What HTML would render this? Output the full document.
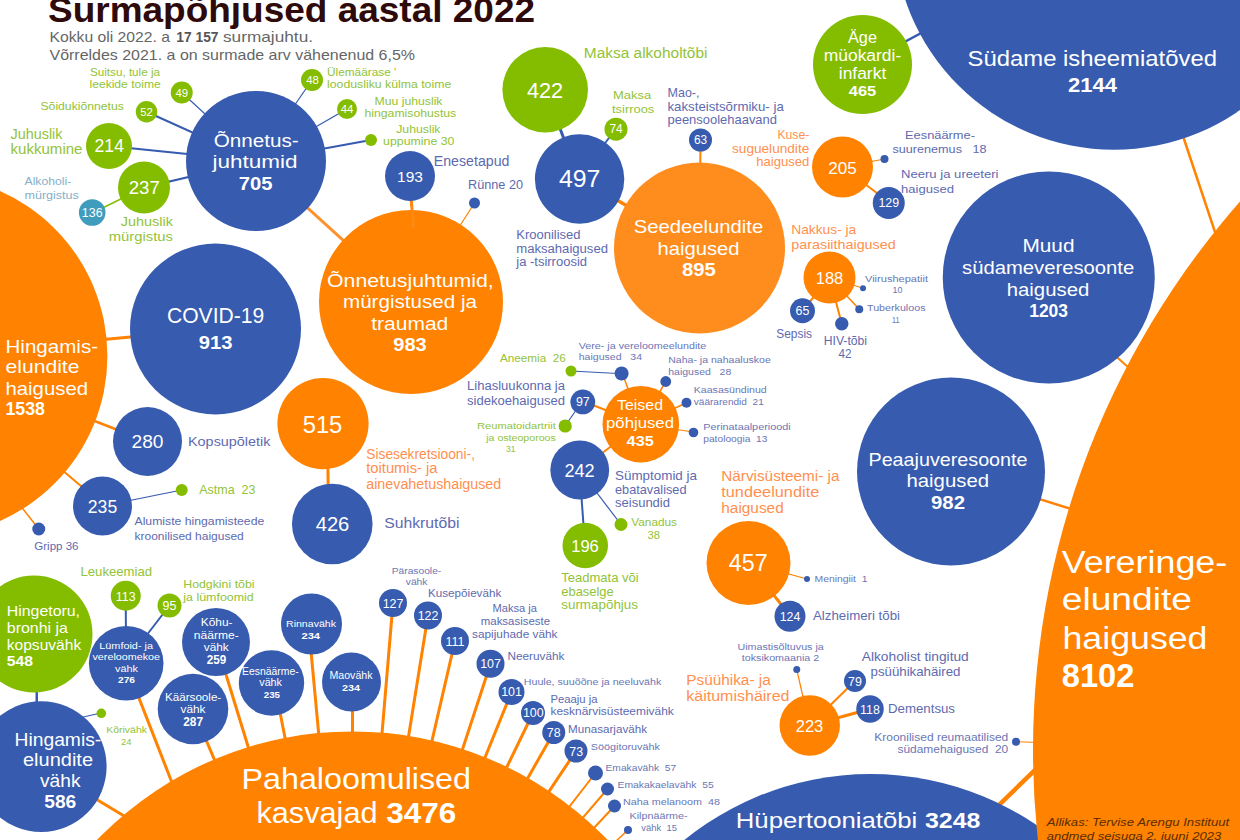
<!DOCTYPE html>
<html><head><meta charset="utf-8"><title>Surmapõhjused aastal 2022</title>
<style>
html,body{margin:0;padding:0;background:#fff;}
body{width:1240px;height:840px;overflow:hidden;}
svg{display:block;}
text{font-family:"Liberation Sans",sans-serif;white-space:pre;}
</style></head><body>
<svg width="1240" height="840" viewBox="0 0 1240 840">
<rect width="1240" height="840" fill="#fff"/>
<line x1="256" y1="161" x2="181.75" y2="92.5" stroke="#365BAF" stroke-width="1.2"/>
<line x1="256" y1="161" x2="146.5" y2="111.75" stroke="#365BAF" stroke-width="2"/>
<line x1="256" y1="161" x2="109" y2="146" stroke="#365BAF" stroke-width="2.2"/>
<line x1="256" y1="161" x2="144" y2="187.5" stroke="#365BAF" stroke-width="2.2"/>
<line x1="256" y1="161" x2="312" y2="80" stroke="#365BAF" stroke-width="1.2"/>
<line x1="256" y1="161" x2="347" y2="109" stroke="#365BAF" stroke-width="1.2"/>
<line x1="256" y1="161" x2="371" y2="140" stroke="#365BAF" stroke-width="1.8"/>
<line x1="144" y1="187.5" x2="92.5" y2="213" stroke="#84BD00" stroke-width="1.5"/>
<line x1="256" y1="161" x2="411" y2="302" stroke="#FF902A" stroke-width="3"/>
<line x1="410" y1="176" x2="411.6" y2="206" stroke="#FF8200" stroke-width="3"/>
<line x1="474.5" y1="203" x2="411" y2="302" stroke="#FF8200" stroke-width="1.2"/>
<line x1="545" y1="89.5" x2="579" y2="178" stroke="#365BAF" stroke-width="3"/>
<line x1="616" y1="128.5" x2="579" y2="178" stroke="#365BAF" stroke-width="2"/>
<line x1="579" y1="178" x2="699.5" y2="248" stroke="#FF8200" stroke-width="3.5"/>
<line x1="700.5" y1="140" x2="699.5" y2="248" stroke="#FF8200" stroke-width="2"/>
<line x1="862.5" y1="64.5" x2="1113.9" y2="-70.3" stroke="#365BAF" stroke-width="2.5"/>
<line x1="842.5" y1="167" x2="884.5" y2="159" stroke="#FF8200" stroke-width="1.2"/>
<line x1="842.5" y1="167" x2="888.75" y2="202" stroke="#FF8200" stroke-width="2"/>
<line x1="829.5" y1="277.5" x2="802.5" y2="310.75" stroke="#FF8200" stroke-width="2"/>
<line x1="829.5" y1="277.5" x2="841.75" y2="323.75" stroke="#FF8200" stroke-width="2"/>
<line x1="829.5" y1="277.5" x2="859.25" y2="309.25" stroke="#FF8200" stroke-width="1.5"/>
<line x1="829.5" y1="277.5" x2="863" y2="288.25" stroke="#FF8200" stroke-width="1.2"/>
<line x1="1174" y1="109" x2="1225" y2="262" stroke="#FF8200" stroke-width="2.5"/>
<line x1="1105" y1="346.5" x2="1138" y2="376" stroke="#FF8200" stroke-width="2"/>
<line x1="951" y1="471.5" x2="1100" y2="518" stroke="#FF8200" stroke-width="2.5"/>
<line x1="985" y1="818.5" x2="1050" y2="755.5" stroke="#FF8200" stroke-width="4.5"/>
<line x1="1016" y1="741.75" x2="1040" y2="742.5" stroke="#FF8200" stroke-width="1"/>
<line x1="-73" y1="356" x2="215.5" y2="329" stroke="#FF8200" stroke-width="3"/>
<line x1="-73" y1="356" x2="147.5" y2="441.5" stroke="#FF8200" stroke-width="2.5"/>
<line x1="32.5" y1="445" x2="97.5" y2="500" stroke="#FF8200" stroke-width="2"/>
<line x1="10" y1="492.5" x2="38.75" y2="529" stroke="#FF8200" stroke-width="1.5"/>
<line x1="102.5" y1="506" x2="181.75" y2="490" stroke="#365BAF" stroke-width="1.2"/>
<line x1="327.5" y1="424" x2="328.5" y2="524" stroke="#FF8200" stroke-width="3"/>
<line x1="571" y1="371" x2="622.5" y2="373.75" stroke="#365BAF" stroke-width="1.2"/>
<line x1="622.5" y1="373.75" x2="641" y2="424" stroke="#FF8200" stroke-width="1.5"/>
<line x1="582.5" y1="401" x2="641" y2="424" stroke="#FF8200" stroke-width="2"/>
<line x1="582.5" y1="401" x2="565" y2="426" stroke="#365BAF" stroke-width="1.2"/>
<line x1="665.75" y1="381.5" x2="641" y2="424" stroke="#FF8200" stroke-width="1.5"/>
<line x1="686.5" y1="402.75" x2="641" y2="424" stroke="#FF8200" stroke-width="1.5"/>
<line x1="693" y1="432" x2="641" y2="424" stroke="#FF8200" stroke-width="1.2"/>
<line x1="579.5" y1="470" x2="641" y2="424" stroke="#FF8200" stroke-width="2"/>
<line x1="579.5" y1="470" x2="585" y2="545.5" stroke="#365BAF" stroke-width="2"/>
<line x1="579.5" y1="470" x2="621" y2="524.5" stroke="#365BAF" stroke-width="1.2"/>
<line x1="748.5" y1="563" x2="807" y2="579" stroke="#FF8200" stroke-width="1.2"/>
<line x1="748.5" y1="563" x2="790" y2="615.75" stroke="#FF8200" stroke-width="3"/>
<line x1="809.5" y1="725.5" x2="796.75" y2="669.5" stroke="#FF8200" stroke-width="1.2"/>
<line x1="809.5" y1="725.5" x2="855" y2="681" stroke="#FF8200" stroke-width="2"/>
<line x1="809.5" y1="725.5" x2="870" y2="709" stroke="#FF8200" stroke-width="3"/>
<line x1="36.5" y1="634" x2="37" y2="766" stroke="#365BAF" stroke-width="2.5"/>
<line x1="70" y1="720" x2="101" y2="713" stroke="#365BAF" stroke-width="1.2"/>
<line x1="125.75" y1="595.75" x2="126" y2="662" stroke="#365BAF" stroke-width="2"/>
<line x1="169.5" y1="605.5" x2="126" y2="662" stroke="#365BAF" stroke-width="2"/>
<line x1="72.5" y1="785" x2="135" y2="822.5" stroke="#FF8200" stroke-width="3"/>
<line x1="130.75" y1="677" x2="179.25" y2="801.25" stroke="#FF8200" stroke-width="3"/>
<line x1="277" y1="697" x2="288" y2="753" stroke="#FF8200" stroke-width="3"/>
<line x1="309.4" y1="634" x2="320.6" y2="754" stroke="#FF8200" stroke-width="3"/>
<line x1="352.5" y1="682" x2="352.5" y2="745" stroke="#FF8200" stroke-width="3"/>
<line x1="193" y1="709" x2="352.3" y2="1086" stroke="#FF8200" stroke-width="3"/>
<line x1="216" y1="642" x2="352.3" y2="1086" stroke="#FF8200" stroke-width="3"/>
<line x1="393" y1="603" x2="352.3" y2="1086" stroke="#FF8200" stroke-width="3"/>
<line x1="428" y1="615.5" x2="352.3" y2="1086" stroke="#FF8200" stroke-width="3"/>
<line x1="455" y1="641" x2="352.3" y2="1086" stroke="#FF8200" stroke-width="3"/>
<line x1="490.5" y1="663.75" x2="352.3" y2="1086" stroke="#FF8200" stroke-width="3"/>
<line x1="511.5" y1="692" x2="352.3" y2="1086" stroke="#FF8200" stroke-width="3"/>
<line x1="533" y1="713" x2="352.3" y2="1086" stroke="#FF8200" stroke-width="3"/>
<line x1="553.75" y1="732.5" x2="352.3" y2="1086" stroke="#FF8200" stroke-width="3"/>
<line x1="576" y1="751" x2="352.3" y2="1086" stroke="#FF8200" stroke-width="3"/>
<line x1="595.5" y1="773" x2="352.3" y2="1086" stroke="#FF8200" stroke-width="2"/>
<line x1="607.5" y1="789" x2="352.3" y2="1086" stroke="#FF8200" stroke-width="2"/>
<line x1="614.5" y1="806" x2="352.3" y2="1086" stroke="#FF8200" stroke-width="2"/>
<line x1="628" y1="830" x2="352.3" y2="1086" stroke="#FF8200" stroke-width="1.5"/>
<circle cx="870.5" cy="1069.5" r="295.5" fill="#365BAF"/>
<circle cx="1113.9" cy="-70.3" r="220.1" fill="#365BAF"/>
<circle cx="1863" cy="750" r="830.0" fill="#FF8200"/>
<circle cx="352.3" cy="1086" r="354.6" fill="#FF8200"/>
<circle cx="-73" cy="356" r="180.4" fill="#FF8200"/>
<circle cx="256" cy="161" r="70" fill="#365BAF"/>
<circle cx="411" cy="302" r="92" fill="#FF8200"/>
<circle cx="215.5" cy="329" r="85.5" fill="#365BAF"/>
<circle cx="699.5" cy="248" r="85.5" fill="#FF8D1E"/>
<circle cx="1048.75" cy="277.5" r="106" fill="#365BAF"/>
<circle cx="951" cy="471.5" r="94" fill="#365BAF"/>
<circle cx="640.8" cy="424.2" r="38.3" fill="#FF8200"/>
<circle cx="181.75" cy="92.5" r="11" fill="#84BD00"/>
<circle cx="146.5" cy="111.75" r="10.75" fill="#84BD00"/>
<circle cx="109" cy="146" r="23" fill="#84BD00"/>
<circle cx="144" cy="187.5" r="26" fill="#84BD00"/>
<circle cx="312" cy="80" r="11" fill="#84BD00"/>
<circle cx="347" cy="109" r="10" fill="#84BD00"/>
<circle cx="371" cy="140" r="6" fill="#84BD00"/>
<circle cx="545.2" cy="89.8" r="42.8" fill="#84BD00"/>
<circle cx="616" cy="129.2" r="11.5" fill="#84BD00"/>
<circle cx="862.5" cy="64.5" r="49.5" fill="#84BD00"/>
<circle cx="571" cy="371" r="5.5" fill="#84BD00"/>
<circle cx="565.2" cy="426" r="6.6" fill="#84BD00"/>
<circle cx="585.25" cy="545.5" r="22.75" fill="#84BD00"/>
<circle cx="621" cy="524.5" r="6.5" fill="#84BD00"/>
<circle cx="181.75" cy="490" r="6" fill="#84BD00"/>
<circle cx="125.75" cy="595.75" r="15" fill="#84BD00"/>
<circle cx="169.5" cy="605.5" r="12" fill="#84BD00"/>
<circle cx="34" cy="634" r="58.5" fill="#84BD00"/>
<circle cx="101.3" cy="713.3" r="4.8" fill="#84BD00"/>
<circle cx="92.2" cy="212.5" r="13.3" fill="#3F9CBD"/>
<circle cx="410" cy="176" r="25" fill="#365BAF"/>
<circle cx="474.5" cy="203" r="5.5" fill="#365BAF"/>
<circle cx="579.6" cy="179" r="44.7" fill="#365BAF"/>
<circle cx="700.5" cy="140" r="11.5" fill="#365BAF"/>
<circle cx="884.5" cy="159" r="4" fill="#365BAF"/>
<circle cx="888.75" cy="203" r="16" fill="#365BAF"/>
<circle cx="802.5" cy="310.75" r="12.5" fill="#365BAF"/>
<circle cx="841.75" cy="323.75" r="6.75" fill="#365BAF"/>
<circle cx="859.25" cy="309.25" r="4" fill="#365BAF"/>
<circle cx="863" cy="288.25" r="3" fill="#365BAF"/>
<circle cx="621.6" cy="373.5" r="7" fill="#365BAF"/>
<circle cx="665.75" cy="381.5" r="5.4" fill="#365BAF"/>
<circle cx="686.5" cy="402.75" r="5" fill="#365BAF"/>
<circle cx="693.5" cy="432.5" r="4.8" fill="#365BAF"/>
<circle cx="582.8" cy="401.9" r="12.4" fill="#365BAF"/>
<circle cx="579.75" cy="470" r="29.4" fill="#365BAF"/>
<circle cx="147.5" cy="441.5" r="34.5" fill="#365BAF"/>
<circle cx="102.5" cy="506" r="29.5" fill="#365BAF"/>
<circle cx="38.75" cy="529" r="6.5" fill="#365BAF"/>
<circle cx="332.25" cy="524" r="40.3" fill="#365BAF"/>
<circle cx="807" cy="579" r="3" fill="#365BAF"/>
<circle cx="790" cy="616.3" r="15.5" fill="#365BAF"/>
<circle cx="796.75" cy="669.5" r="3.5" fill="#365BAF"/>
<circle cx="855" cy="681" r="11" fill="#365BAF"/>
<circle cx="870" cy="709" r="13.75" fill="#365BAF"/>
<circle cx="1016" cy="741.75" r="4" fill="#365BAF"/>
<circle cx="41.2" cy="766.6" r="65.4" fill="#365BAF"/>
<circle cx="126.2" cy="663.2" r="37.3" fill="#365BAF"/>
<circle cx="193" cy="709" r="35.3" fill="#365BAF"/>
<circle cx="216" cy="642" r="34" fill="#365BAF"/>
<circle cx="271.5" cy="683" r="32.7" fill="#365BAF"/>
<circle cx="311.5" cy="624" r="30.5" fill="#365BAF"/>
<circle cx="351.5" cy="682" r="29.5" fill="#365BAF"/>
<circle cx="393" cy="603" r="14" fill="#365BAF"/>
<circle cx="428" cy="615.5" r="14" fill="#365BAF"/>
<circle cx="455" cy="641" r="14" fill="#365BAF"/>
<circle cx="490.5" cy="663.75" r="14" fill="#365BAF"/>
<circle cx="511.5" cy="692" r="13" fill="#365BAF"/>
<circle cx="533" cy="713" r="12" fill="#365BAF"/>
<circle cx="553.75" cy="732.5" r="11.5" fill="#365BAF"/>
<circle cx="576" cy="751" r="11.5" fill="#365BAF"/>
<circle cx="595.5" cy="773" r="7.5" fill="#365BAF"/>
<circle cx="607.5" cy="789" r="6.5" fill="#365BAF"/>
<circle cx="614.5" cy="806" r="6.5" fill="#365BAF"/>
<circle cx="628" cy="830" r="4" fill="#365BAF"/>
<circle cx="842.5" cy="167" r="30.5" fill="#FF8200"/>
<circle cx="829.5" cy="277.5" r="26" fill="#FF8200"/>
<circle cx="323" cy="423.6" r="45.6" fill="#FF8200"/>
<circle cx="748.5" cy="563" r="42" fill="#FF8200"/>
<circle cx="809.75" cy="725.5" r="30.2" fill="#FF8200"/>
<line x1="411.3" y1="201.3" x2="413.7" y2="228" stroke="#FF8A12" stroke-width="3"/>
<text x="48" y="21.5" textLength="487" lengthAdjust="spacingAndGlyphs" style="font-size:35.19px;fill:#2E0A0A;font-weight:bold;">Surmapõhjused aastal 2022</text>
<text x="49.5" y="42" textLength="120.5" lengthAdjust="spacingAndGlyphs" style="font-size:15.01px;fill:#666;">Kokku oli 2022. a</text>
<text x="176.3" y="42" textLength="42.2" lengthAdjust="spacingAndGlyphs" style="font-size:15.01px;fill:#555;font-weight:bold;">17 157</text>
<text x="223" y="42" textLength="90" lengthAdjust="spacingAndGlyphs" style="font-size:15.01px;fill:#666;">surmajuhtu.</text>
<text x="49.5" y="60" textLength="365.5" lengthAdjust="spacingAndGlyphs" style="font-size:15.01px;fill:#666;">Võrreldes 2021. a on surmade arv vähenenud 6,5%</text>
<text x="90" y="75.5" textLength="70" lengthAdjust="spacingAndGlyphs" style="font-size:11.38px;fill:#92C338;">Suitsu, tule ja</text>
<text x="89.5" y="88" textLength="71.25" lengthAdjust="spacingAndGlyphs" style="font-size:11.38px;fill:#92C338;">leekide toime</text>
<text x="40.5" y="110" textLength="83.25" lengthAdjust="spacingAndGlyphs" style="font-size:11.38px;fill:#92C338;">Sõidukiõnnetus</text>
<text x="10.5" y="138.75" textLength="52.0" lengthAdjust="spacingAndGlyphs" style="font-size:13.97px;fill:#92C338;">Juhuslik</text>
<text x="10.5" y="154.25" textLength="72.0" lengthAdjust="spacingAndGlyphs" style="font-size:13.97px;fill:#92C338;">kukkumine</text>
<text x="24.5" y="184.5" textLength="46.75" lengthAdjust="spacingAndGlyphs" style="font-size:11.38px;fill:#86AFC8;">Alkoholi-</text>
<text x="24.5" y="199.25" textLength="54.25" lengthAdjust="spacingAndGlyphs" style="font-size:11.38px;fill:#86AFC8;">mürgistus</text>
<text x="181.75" y="96.6" style="font-size:11.38px;fill:#FFFFFF;text-anchor:middle;">49</text>
<text x="146.5" y="115.85" style="font-size:11.38px;fill:#FFFFFF;text-anchor:middle;">52</text>
<text x="109.25" y="152.08" style="font-size:17.59px;fill:#FFFFFF;text-anchor:middle;">214</text>
<text x="144.25" y="194.21" style="font-size:18.63px;fill:#FFFFFF;text-anchor:middle;">237</text>
<text x="92.2" y="217.27" style="font-size:12.42px;fill:#FFFFFF;text-anchor:middle;">136</text>
<text x="213.75" y="147" textLength="85.0" lengthAdjust="spacingAndGlyphs" style="font-size:18.63px;fill:#FFFFFF;">Õnnetus-</text>
<text x="212.5" y="167.5" textLength="85.0" lengthAdjust="spacingAndGlyphs" style="font-size:18.63px;fill:#FFFFFF;">juhtumid</text>
<text x="238.75" y="189.5" textLength="33.75" lengthAdjust="spacingAndGlyphs" style="font-size:17.59px;fill:#FFFFFF;font-weight:bold;">705</text>
<text x="327" y="75.5" textLength="69.25" lengthAdjust="spacingAndGlyphs" style="font-size:11.38px;fill:#92C338;">Ülemäärase '</text>
<text x="327" y="88" textLength="124.25" lengthAdjust="spacingAndGlyphs" style="font-size:11.38px;fill:#92C338;">loodusliku külma toime</text>
<text x="374.5" y="105" textLength="68.0" lengthAdjust="spacingAndGlyphs" style="font-size:11.38px;fill:#92C338;">Muu juhuslik</text>
<text x="364.5" y="117" textLength="91.75" lengthAdjust="spacingAndGlyphs" style="font-size:11.38px;fill:#92C338;">hingamisohustus</text>
<text x="396.25" y="132.5" textLength="44.25" lengthAdjust="spacingAndGlyphs" style="font-size:11.38px;fill:#92C338;">Juhuslik</text>
<text x="383" y="145" textLength="71.5" lengthAdjust="spacingAndGlyphs" style="font-size:11.38px;fill:#92C338;">uppumine 30</text>
<text x="312.5" y="84.1" style="font-size:11.38px;fill:#FFFFFF;text-anchor:middle;">48</text>
<text x="347" y="113.1" style="font-size:11.38px;fill:#FFFFFF;text-anchor:middle;">44</text>
<text x="433.75" y="166.25" textLength="75.75" lengthAdjust="spacingAndGlyphs" style="font-size:13.97px;fill:#5E6AAF;">Enesetapud</text>
<text x="468" y="188.75" textLength="55" lengthAdjust="spacingAndGlyphs" style="font-size:11.9px;fill:#5E6AAF;">Rünne 20</text>
<text x="410" y="182.09" style="font-size:15.52px;fill:#FFFFFF;text-anchor:middle;">193</text>
<text x="545" y="98.32" style="font-size:21.73px;fill:#FFFFFF;text-anchor:middle;">422</text>
<text x="579.6" y="187.44" style="font-size:24.84px;fill:#FFFFFF;text-anchor:middle;">497</text>
<text x="120.75" y="225.5" textLength="52.25" lengthAdjust="spacingAndGlyphs" style="font-size:13.45px;fill:#92C338;">Juhuslik</text>
<text x="108.75" y="241.25" textLength="64.25" lengthAdjust="spacingAndGlyphs" style="font-size:13.45px;fill:#92C338;">mürgistus</text>
<text x="583.75" y="58" textLength="123.75" lengthAdjust="spacingAndGlyphs" style="font-size:13.97px;fill:#92C338;">Maksa alkoholtõbi</text>
<text x="613" y="98.75" textLength="38.25" lengthAdjust="spacingAndGlyphs" style="font-size:11.38px;fill:#92C338;">Maksa</text>
<text x="612" y="113" textLength="42.25" lengthAdjust="spacingAndGlyphs" style="font-size:11.38px;fill:#92C338;">tsirroos</text>
<text x="616" y="133.48" style="font-size:11.9px;fill:#FFFFFF;text-anchor:middle;">74</text>
<text x="667.5" y="97" textLength="32.0" lengthAdjust="spacingAndGlyphs" style="font-size:11.9px;fill:#5E6AAF;">Mao-,</text>
<text x="667.5" y="110.5" textLength="116.25" lengthAdjust="spacingAndGlyphs" style="font-size:11.9px;fill:#5E6AAF;">kaksteistsõrmiku- ja</text>
<text x="667.5" y="124" textLength="109.5" lengthAdjust="spacingAndGlyphs" style="font-size:11.9px;fill:#5E6AAF;">peensoolehaavand</text>
<text x="700.5" y="144.28" style="font-size:11.9px;fill:#FFFFFF;text-anchor:middle;">63</text>
<text x="777.5" y="139" textLength="31.75" lengthAdjust="spacingAndGlyphs" style="font-size:11.9px;fill:#FF8F4E;">Kuse-</text>
<text x="732" y="152.5" textLength="77.25" lengthAdjust="spacingAndGlyphs" style="font-size:11.9px;fill:#FF8F4E;">suguelundite</text>
<text x="756.25" y="166.25" textLength="53.0" lengthAdjust="spacingAndGlyphs" style="font-size:11.9px;fill:#FF8F4E;">haigused</text>
<text x="842.5" y="173.65" style="font-size:17.08px;fill:#FFFFFF;text-anchor:middle;">205</text>
<text x="888.75" y="207.47" style="font-size:12.42px;fill:#FFFFFF;text-anchor:middle;">129</text>
<text x="848" y="43" textLength="29" lengthAdjust="spacingAndGlyphs" style="font-size:16.04px;fill:#FFFFFF;">Äge</text>
<text x="823.75" y="60.75" textLength="77.5" lengthAdjust="spacingAndGlyphs" style="font-size:16.04px;fill:#FFFFFF;">müokardi-</text>
<text x="838.75" y="78.75" textLength="47.5" lengthAdjust="spacingAndGlyphs" style="font-size:16.04px;fill:#FFFFFF;">infarkt</text>
<text x="848.75" y="95.5" textLength="27.5" lengthAdjust="spacingAndGlyphs" style="font-size:15.52px;fill:#FFFFFF;font-weight:bold;">465</text>
<text x="905" y="138.75" textLength="70" lengthAdjust="spacingAndGlyphs" style="font-size:11.38px;fill:#5E6AAF;">Eesnäärme-</text>
<text x="892.5" y="153.25" textLength="94.0" lengthAdjust="spacingAndGlyphs" style="font-size:11.38px;fill:#5E6AAF;">suurenemus   18</text>
<text x="901" y="178.25" textLength="97.5" lengthAdjust="spacingAndGlyphs" style="font-size:11.38px;fill:#5E6AAF;">Neeru ja ureeteri</text>
<text x="901" y="192.5" textLength="53" lengthAdjust="spacingAndGlyphs" style="font-size:11.38px;fill:#5E6AAF;">haigused</text>
<text x="967.5" y="65.75" textLength="249.5" lengthAdjust="spacingAndGlyphs" style="font-size:22.77px;fill:#FFFFFF;">Südame isheemiatõved</text>
<text x="1068" y="91.75" textLength="49" lengthAdjust="spacingAndGlyphs" style="font-size:20.7px;fill:#FFFFFF;font-weight:bold;">2144</text>
<text x="167" y="322.5" textLength="97.25" lengthAdjust="spacingAndGlyphs" style="font-size:21.73px;fill:#FFFFFF;">COVID-19</text>
<text x="198.75" y="348.75" textLength="33.75" lengthAdjust="spacingAndGlyphs" style="font-size:19.15px;fill:#FFFFFF;font-weight:bold;">913</text>
<text x="5.5" y="352.5" textLength="92.5" lengthAdjust="spacingAndGlyphs" style="font-size:19.15px;fill:#FFFFFF;">Hingamis-</text>
<text x="5.5" y="372.5" textLength="74.0" lengthAdjust="spacingAndGlyphs" style="font-size:19.15px;fill:#FFFFFF;">elundite</text>
<text x="5.5" y="394.5" textLength="82.5" lengthAdjust="spacingAndGlyphs" style="font-size:19.15px;fill:#FFFFFF;">haigused</text>
<text x="5.5" y="415" textLength="39.5" lengthAdjust="spacingAndGlyphs" style="font-size:18.11px;fill:#FFFFFF;font-weight:bold;">1538</text>
<text x="327" y="287" textLength="166.75" lengthAdjust="spacingAndGlyphs" style="font-size:18.11px;fill:#FFFFFF;">Õnnetusjuhtumid,</text>
<text x="343" y="308" textLength="134" lengthAdjust="spacingAndGlyphs" style="font-size:18.11px;fill:#FFFFFF;">mürgistused ja</text>
<text x="371.25" y="329.5" textLength="77.0" lengthAdjust="spacingAndGlyphs" style="font-size:18.11px;fill:#FFFFFF;">traumad</text>
<text x="393.25" y="351.25" textLength="33.5" lengthAdjust="spacingAndGlyphs" style="font-size:18.63px;fill:#FFFFFF;font-weight:bold;">983</text>
<text x="516.25" y="238.75" textLength="64.25" lengthAdjust="spacingAndGlyphs" style="font-size:12.42px;fill:#5E6AAF;">Kroonilised</text>
<text x="516.25" y="252.5" textLength="91.75" lengthAdjust="spacingAndGlyphs" style="font-size:12.42px;fill:#5E6AAF;">maksahaigused</text>
<text x="516.25" y="266.25" textLength="70.75" lengthAdjust="spacingAndGlyphs" style="font-size:12.42px;fill:#5E6AAF;">ja -tsirroosid</text>
<text x="500" y="362" textLength="65.75" lengthAdjust="spacingAndGlyphs" style="font-size:11.38px;fill:#92C338;">Aneemia  26</text>
<text x="467" y="390" textLength="98" lengthAdjust="spacingAndGlyphs" style="font-size:12.42px;fill:#5E6AAF;">Lihasluukonna ja</text>
<text x="467" y="405" textLength="98" lengthAdjust="spacingAndGlyphs" style="font-size:12.42px;fill:#5E6AAF;">sidekoehaigused</text>
<text x="582.8" y="406.47" style="font-size:12.42px;fill:#FFFFFF;text-anchor:middle;">97</text>
<text x="578.75" y="348.75" textLength="127.5" lengthAdjust="spacingAndGlyphs" style="font-size:9.83px;fill:#6B76B5;">Vere- ja vereloomeelundite</text>
<text x="578.75" y="360" textLength="63.25" lengthAdjust="spacingAndGlyphs" style="font-size:9.83px;fill:#6B76B5;">haigused   34</text>
<text x="633.75" y="233" textLength="129.5" lengthAdjust="spacingAndGlyphs" style="font-size:17.59px;fill:#FFFFFF;">Seedeelundite</text>
<text x="657.5" y="254.5" textLength="82.0" lengthAdjust="spacingAndGlyphs" style="font-size:17.59px;fill:#FFFFFF;">haigused</text>
<text x="682" y="276.25" textLength="33.75" lengthAdjust="spacingAndGlyphs" style="font-size:18.63px;fill:#FFFFFF;font-weight:bold;">895</text>
<text x="791.25" y="233.75" textLength="65.0" lengthAdjust="spacingAndGlyphs" style="font-size:13.45px;fill:#FF8F4E;">Nakkus- ja</text>
<text x="791.25" y="249.25" textLength="104.5" lengthAdjust="spacingAndGlyphs" style="font-size:13.45px;fill:#FF8F4E;">parasiithaigused</text>
<text x="829.5" y="283.96" style="font-size:16.56px;fill:#FFFFFF;text-anchor:middle;">188</text>
<text x="802.5" y="315.22" style="font-size:12.42px;fill:#FFFFFF;text-anchor:middle;">65</text>
<text x="865" y="281.75" textLength="63" lengthAdjust="spacingAndGlyphs" style="font-size:9.83px;fill:#6B76B5;">Viirushepatiit</text>
<text x="892.5" y="293.25" textLength="10.0" lengthAdjust="spacingAndGlyphs" style="font-size:9.83px;fill:#6B76B5;">10</text>
<text x="867" y="311.25" textLength="58.5" lengthAdjust="spacingAndGlyphs" style="font-size:9.83px;fill:#6B76B5;">Tuberkuloos</text>
<text x="892" y="323" textLength="7.5" lengthAdjust="spacingAndGlyphs" style="font-size:9.83px;fill:#6B76B5;">11</text>
<text x="776.25" y="338.25" textLength="35.75" lengthAdjust="spacingAndGlyphs" style="font-size:11.9px;fill:#5E6AAF;">Sepsis</text>
<text x="823.75" y="345" textLength="43.25" lengthAdjust="spacingAndGlyphs" style="font-size:11.9px;fill:#5E6AAF;">HIV-tõbi</text>
<text x="838.5" y="357.5" textLength="13.0" lengthAdjust="spacingAndGlyphs" style="font-size:11.9px;fill:#5E6AAF;">42</text>
<text x="668.25" y="363" textLength="102.5" lengthAdjust="spacingAndGlyphs" style="font-size:9.83px;fill:#6B76B5;">Naha- ja nahaaluskoe</text>
<text x="668.25" y="375" textLength="63.0" lengthAdjust="spacingAndGlyphs" style="font-size:9.83px;fill:#6B76B5;">haigused   28</text>
<text x="693.75" y="392.5" textLength="73.0" lengthAdjust="spacingAndGlyphs" style="font-size:9.83px;fill:#6B76B5;">Kaasasündinud</text>
<text x="693.75" y="404.5" textLength="70.0" lengthAdjust="spacingAndGlyphs" style="font-size:9.83px;fill:#6B76B5;">väärarendid  21</text>
<text x="617" y="410.4" textLength="46" lengthAdjust="spacingAndGlyphs" style="font-size:15.01px;fill:#FFFFFF;">Teised</text>
<text x="606" y="428.2" textLength="68" lengthAdjust="spacingAndGlyphs" style="font-size:15.01px;fill:#FFFFFF;">põhjused</text>
<text x="626.6" y="446" textLength="27.1" lengthAdjust="spacingAndGlyphs" style="font-size:15.01px;fill:#FFFFFF;font-weight:bold;">435</text>
<text x="1022.5" y="252" textLength="52.0" lengthAdjust="spacingAndGlyphs" style="font-size:18.11px;fill:#FFFFFF;">Muud</text>
<text x="962" y="273.75" textLength="172.25" lengthAdjust="spacingAndGlyphs" style="font-size:18.11px;fill:#FFFFFF;">südameveresoonte</text>
<text x="1006.75" y="295.75" textLength="82.5" lengthAdjust="spacingAndGlyphs" style="font-size:18.11px;fill:#FFFFFF;">haigused</text>
<text x="1029.25" y="316.75" textLength="38.75" lengthAdjust="spacingAndGlyphs" style="font-size:17.59px;fill:#FFFFFF;font-weight:bold;">1203</text>
<text x="147.5" y="448.14" style="font-size:19.15px;fill:#FFFFFF;text-anchor:middle;">280</text>
<text x="188" y="445.75" textLength="82.5" lengthAdjust="spacingAndGlyphs" style="font-size:13.45px;fill:#5E6AAF;">Kopsupõletik</text>
<text x="102.5" y="513.08" style="font-size:17.59px;fill:#FFFFFF;text-anchor:middle;">235</text>
<text x="199.25" y="494.25" textLength="56.25" lengthAdjust="spacingAndGlyphs" style="font-size:11.9px;fill:#92C338;">Astma  23</text>
<text x="134.5" y="525" textLength="129.75" lengthAdjust="spacingAndGlyphs" style="font-size:11.38px;fill:#5E6AAF;">Alumiste hingamisteede</text>
<text x="134.5" y="539.5" textLength="109.25" lengthAdjust="spacingAndGlyphs" style="font-size:11.38px;fill:#5E6AAF;">kroonilised haigused</text>
<text x="34.25" y="550" textLength="44.25" lengthAdjust="spacingAndGlyphs" style="font-size:10.87px;fill:#5E6AAF;">Gripp 36</text>
<text x="80.5" y="575.5" textLength="71.5" lengthAdjust="spacingAndGlyphs" style="font-size:11.9px;fill:#92C338;">Leukeemiad</text>
<text x="125.75" y="600.72" style="font-size:12.42px;fill:#FFFFFF;text-anchor:middle;">113</text>
<text x="183.25" y="588" textLength="71.25" lengthAdjust="spacingAndGlyphs" style="font-size:10.87px;fill:#92C338;">Hodgkini tõbi</text>
<text x="183.25" y="600.75" textLength="70.5" lengthAdjust="spacingAndGlyphs" style="font-size:10.87px;fill:#92C338;">ja lümfoomid</text>
<text x="169.5" y="610.22" style="font-size:12.42px;fill:#FFFFFF;text-anchor:middle;">95</text>
<text x="6.75" y="616.25" textLength="73.25" lengthAdjust="spacingAndGlyphs" style="font-size:15.52px;fill:#FFFFFF;">Hingetoru,</text>
<text x="6.75" y="633" textLength="61.25" lengthAdjust="spacingAndGlyphs" style="font-size:15.52px;fill:#FFFFFF;">bronhi ja</text>
<text x="6.75" y="649.5" textLength="74.5" lengthAdjust="spacingAndGlyphs" style="font-size:15.52px;fill:#FFFFFF;">kopsuvähk</text>
<text x="6.75" y="665.5" textLength="26.25" lengthAdjust="spacingAndGlyphs" style="font-size:15.01px;fill:#FFFFFF;font-weight:bold;">548</text>
<text x="322.5" y="433.37" style="font-size:23.8px;fill:#FFFFFF;text-anchor:middle;">515</text>
<text x="366.25" y="458.75" textLength="108.75" lengthAdjust="spacingAndGlyphs" style="font-size:13.97px;fill:#FF8F4E;">Sisesekretsiooni-,</text>
<text x="366.25" y="473.25" textLength="71.25" lengthAdjust="spacingAndGlyphs" style="font-size:13.97px;fill:#FF8F4E;">toitumis- ja</text>
<text x="366.25" y="488.75" textLength="135.0" lengthAdjust="spacingAndGlyphs" style="font-size:13.97px;fill:#FF8F4E;">ainevahetushaigused</text>
<text x="332.5" y="531.01" style="font-size:20.18px;fill:#FFFFFF;text-anchor:middle;">426</text>
<text x="384.25" y="528.25" textLength="75.25" lengthAdjust="spacingAndGlyphs" style="font-size:13.97px;fill:#5E6AAF;">Suhkrutõbi</text>
<text x="477" y="428.75" textLength="78.75" lengthAdjust="spacingAndGlyphs" style="font-size:9.83px;fill:#92C338;">Reumatoidartriit</text>
<text x="486.25" y="440.5" textLength="69.5" lengthAdjust="spacingAndGlyphs" style="font-size:9.83px;fill:#92C338;">ja osteoporoos</text>
<text x="506" y="452" textLength="9.5" lengthAdjust="spacingAndGlyphs" style="font-size:9.83px;fill:#92C338;">31</text>
<text x="579.5" y="476.52" style="font-size:18.11px;fill:#FFFFFF;text-anchor:middle;">242</text>
<text x="585" y="551.71" style="font-size:16.56px;fill:#FFFFFF;text-anchor:middle;">196</text>
<text x="615" y="480" textLength="82" lengthAdjust="spacingAndGlyphs" style="font-size:11.9px;fill:#5E6AAF;">Sümptomid ja</text>
<text x="615" y="493.75" textLength="71.5" lengthAdjust="spacingAndGlyphs" style="font-size:11.9px;fill:#5E6AAF;">ebatavalised</text>
<text x="615" y="507" textLength="55" lengthAdjust="spacingAndGlyphs" style="font-size:11.9px;fill:#5E6AAF;">seisundid</text>
<text x="631.25" y="526.25" textLength="45.75" lengthAdjust="spacingAndGlyphs" style="font-size:10.87px;fill:#92C338;">Vanadus</text>
<text x="647.5" y="538.75" textLength="12.5" lengthAdjust="spacingAndGlyphs" style="font-size:10.87px;fill:#92C338;">38</text>
<text x="561.25" y="582" textLength="77.5" lengthAdjust="spacingAndGlyphs" style="font-size:11.9px;fill:#92C338;">Teadmata või</text>
<text x="561.25" y="595.75" textLength="52.5" lengthAdjust="spacingAndGlyphs" style="font-size:11.9px;fill:#92C338;">ebaselge</text>
<text x="561.25" y="609.25" textLength="76.75" lengthAdjust="spacingAndGlyphs" style="font-size:11.9px;fill:#92C338;">surmapõhjus</text>
<text x="391.75" y="573.75" textLength="49.5" lengthAdjust="spacingAndGlyphs" style="font-size:9.83px;fill:#6B76B5;">Pärasoole-</text>
<text x="405.75" y="585" textLength="21.75" lengthAdjust="spacingAndGlyphs" style="font-size:9.83px;fill:#6B76B5;">vähk</text>
<text x="393" y="607.72" style="font-size:12.42px;fill:#FFFFFF;text-anchor:middle;">127</text>
<text x="428" y="597" textLength="73.25" lengthAdjust="spacingAndGlyphs" style="font-size:10.87px;fill:#5E6AAF;">Kusepõievähk</text>
<text x="428" y="620.22" style="font-size:12.42px;fill:#FFFFFF;text-anchor:middle;">122</text>
<text x="492.5" y="612" textLength="44.5" lengthAdjust="spacingAndGlyphs" style="font-size:10.87px;fill:#5E6AAF;">Maksa ja</text>
<text x="480.75" y="624.5" textLength="69.25" lengthAdjust="spacingAndGlyphs" style="font-size:10.87px;fill:#5E6AAF;">maksasiseste</text>
<text x="472" y="637.5" textLength="85.5" lengthAdjust="spacingAndGlyphs" style="font-size:10.87px;fill:#5E6AAF;">sapijuhade vähk</text>
<text x="703.25" y="429.5" textLength="87.5" lengthAdjust="spacingAndGlyphs" style="font-size:9.83px;fill:#6B76B5;">Perinataalperioodi</text>
<text x="703.25" y="441.75" textLength="64.25" lengthAdjust="spacingAndGlyphs" style="font-size:9.83px;fill:#6B76B5;">patoloogia  13</text>
<text x="721.25" y="480.5" textLength="118.25" lengthAdjust="spacingAndGlyphs" style="font-size:13.97px;fill:#FF8F4E;">Närvisüsteemi- ja</text>
<text x="721.25" y="497" textLength="98.0" lengthAdjust="spacingAndGlyphs" style="font-size:13.97px;fill:#FF8F4E;">tundeelundite</text>
<text x="721.25" y="513" textLength="62.5" lengthAdjust="spacingAndGlyphs" style="font-size:13.97px;fill:#FF8F4E;">haigused</text>
<text x="748.25" y="571.38" style="font-size:23.29px;fill:#FFFFFF;text-anchor:middle;">457</text>
<text x="814.5" y="582" textLength="53.0" lengthAdjust="spacingAndGlyphs" style="font-size:9.83px;fill:#6B76B5;">Meningiit  1</text>
<text x="790" y="620.72" style="font-size:12.42px;fill:#FFFFFF;text-anchor:middle;">124</text>
<text x="813" y="620" textLength="87" lengthAdjust="spacingAndGlyphs" style="font-size:11.9px;fill:#5E6AAF;">Alzheimeri tõbi</text>
<text x="868.5" y="465.75" textLength="159.0" lengthAdjust="spacingAndGlyphs" style="font-size:17.59px;fill:#FFFFFF;">Peaajuveresoonte</text>
<text x="906.5" y="487" textLength="82.5" lengthAdjust="spacingAndGlyphs" style="font-size:17.59px;fill:#FFFFFF;">haigused</text>
<text x="931" y="509.25" textLength="34" lengthAdjust="spacingAndGlyphs" style="font-size:17.59px;fill:#FFFFFF;font-weight:bold;">982</text>
<text x="1061.75" y="572.5" textLength="165.5" lengthAdjust="spacingAndGlyphs" style="font-size:32.09px;fill:#FFFFFF;">Vereringe-</text>
<text x="1061.75" y="610" textLength="130.25" lengthAdjust="spacingAndGlyphs" style="font-size:32.09px;fill:#FFFFFF;">elundite</text>
<text x="1062.5" y="648.5" textLength="145.0" lengthAdjust="spacingAndGlyphs" style="font-size:32.09px;fill:#FFFFFF;">haigused</text>
<text x="1061.75" y="687" textLength="72.75" lengthAdjust="spacingAndGlyphs" style="font-size:33.12px;fill:#FFFFFF;font-weight:bold;">8102</text>
<text x="99.25" y="648.75" textLength="53.75" lengthAdjust="spacingAndGlyphs" style="font-size:9.83px;fill:#FFFFFF;">Lümfoid- ja</text>
<text x="92.5" y="660" textLength="67.5" lengthAdjust="spacingAndGlyphs" style="font-size:9.83px;fill:#FFFFFF;">vereloomekoe</text>
<text x="115" y="671.75" textLength="23" lengthAdjust="spacingAndGlyphs" style="font-size:9.83px;fill:#FFFFFF;">vähk</text>
<text x="118" y="682.5" textLength="17" lengthAdjust="spacingAndGlyphs" style="font-size:9.83px;fill:#FFFFFF;font-weight:bold;">276</text>
<text x="200.75" y="626.25" textLength="31.75" lengthAdjust="spacingAndGlyphs" style="font-size:11.38px;fill:#FFFFFF;">Kõhu-</text>
<text x="193.75" y="638.75" textLength="45.0" lengthAdjust="spacingAndGlyphs" style="font-size:11.38px;fill:#FFFFFF;">näärme-</text>
<text x="203.75" y="651.25" textLength="25.0" lengthAdjust="spacingAndGlyphs" style="font-size:11.38px;fill:#FFFFFF;">vähk</text>
<text x="206.75" y="664.25" textLength="19.5" lengthAdjust="spacingAndGlyphs" style="font-size:11.9px;fill:#FFFFFF;font-weight:bold;">259</text>
<text x="165" y="701.25" textLength="56.25" lengthAdjust="spacingAndGlyphs" style="font-size:11.38px;fill:#FFFFFF;">Käärsoole-</text>
<text x="180.5" y="713.25" textLength="25.0" lengthAdjust="spacingAndGlyphs" style="font-size:11.38px;fill:#FFFFFF;">vähk</text>
<text x="183.25" y="726.25" textLength="19.75" lengthAdjust="spacingAndGlyphs" style="font-size:11.9px;fill:#FFFFFF;font-weight:bold;">287</text>
<text x="242" y="674.5" textLength="56.75" lengthAdjust="spacingAndGlyphs" style="font-size:10.35px;fill:#FFFFFF;">Eesnäärme-</text>
<text x="259.25" y="685.5" textLength="22.75" lengthAdjust="spacingAndGlyphs" style="font-size:10.35px;fill:#FFFFFF;">vähk</text>
<text x="263.75" y="697.5" textLength="16.25" lengthAdjust="spacingAndGlyphs" style="font-size:9.83px;fill:#FFFFFF;font-weight:bold;">235</text>
<text x="286" y="627" textLength="50" lengthAdjust="spacingAndGlyphs" style="font-size:9.83px;fill:#FFFFFF;">Rinnavähk</text>
<text x="301.5" y="638.5" textLength="18.5" lengthAdjust="spacingAndGlyphs" style="font-size:9.83px;fill:#FFFFFF;font-weight:bold;">234</text>
<text x="329.5" y="679.25" textLength="43.0" lengthAdjust="spacingAndGlyphs" style="font-size:10.35px;fill:#FFFFFF;">Maovähk</text>
<text x="342" y="690.75" textLength="18" lengthAdjust="spacingAndGlyphs" style="font-size:9.83px;fill:#FFFFFF;font-weight:bold;">234</text>
<text x="14.5" y="745.6" textLength="86.75" lengthAdjust="spacingAndGlyphs" style="font-size:18.11px;fill:#FFFFFF;">Hingamis-</text>
<text x="23" y="766.4" textLength="70" lengthAdjust="spacingAndGlyphs" style="font-size:18.11px;fill:#FFFFFF;">elundite</text>
<text x="40" y="787" textLength="40.5" lengthAdjust="spacingAndGlyphs" style="font-size:18.11px;fill:#FFFFFF;">vähk</text>
<text x="44.25" y="807.6" textLength="32.0" lengthAdjust="spacingAndGlyphs" style="font-size:18.11px;fill:#FFFFFF;font-weight:bold;">586</text>
<text x="106.25" y="733.25" textLength="40.75" lengthAdjust="spacingAndGlyphs" style="font-size:9.83px;fill:#92C338;">Kõrivähk</text>
<text x="121" y="744.5" textLength="10.5" lengthAdjust="spacingAndGlyphs" style="font-size:9.83px;fill:#92C338;">24</text>
<text x="241.5" y="788.5" textLength="229.5" lengthAdjust="spacingAndGlyphs" style="font-size:29.5px;fill:#FFFFFF;">Pahaloomulised</text>
<text x="256.5" y="823" textLength="129.5" lengthAdjust="spacingAndGlyphs" style="font-size:29.5px;fill:#FFFFFF;">kasvajad </text>
<text x="386.25" y="823" textLength="70.0" lengthAdjust="spacingAndGlyphs" style="font-size:29.5px;fill:#FFFFFF;font-weight:bold;">3476</text>
<text x="455" y="645.72" style="font-size:12.42px;fill:#FFFFFF;text-anchor:middle;">111</text>
<text x="490.5" y="667.72" style="font-size:12.42px;fill:#FFFFFF;text-anchor:middle;">107</text>
<text x="507.5" y="660" textLength="57.0" lengthAdjust="spacingAndGlyphs" style="font-size:10.87px;fill:#5E6AAF;">Neeruvähk</text>
<text x="511.5" y="696.47" style="font-size:12.42px;fill:#FFFFFF;text-anchor:middle;">101</text>
<text x="523.75" y="685" textLength="137.5" lengthAdjust="spacingAndGlyphs" style="font-size:9.31px;fill:#6B76B5;">Huule, suuõõne ja neeluvähk</text>
<text x="533.25" y="717.47" style="font-size:12.42px;fill:#FFFFFF;text-anchor:middle;">100</text>
<text x="550.5" y="702.5" textLength="47.0" lengthAdjust="spacingAndGlyphs" style="font-size:11.38px;fill:#5E6AAF;">Peaaju ja</text>
<text x="550.5" y="715" textLength="123.25" lengthAdjust="spacingAndGlyphs" style="font-size:11.38px;fill:#5E6AAF;">kesknärvisüsteemivähk</text>
<text x="553.75" y="736.97" style="font-size:12.42px;fill:#FFFFFF;text-anchor:middle;">78</text>
<text x="568" y="733.25" textLength="79" lengthAdjust="spacingAndGlyphs" style="font-size:11.38px;fill:#5E6AAF;">Munasarjavähk</text>
<text x="576.25" y="755.97" style="font-size:12.42px;fill:#FFFFFF;text-anchor:middle;">73</text>
<text x="590.75" y="750" textLength="69.25" lengthAdjust="spacingAndGlyphs" style="font-size:9.83px;fill:#6B76B5;">Söögitoruvähk</text>
<text x="605.5" y="771.25" textLength="70.75" lengthAdjust="spacingAndGlyphs" style="font-size:9.83px;fill:#6B76B5;">Emakavähk  57</text>
<text x="617.5" y="788.25" textLength="96.25" lengthAdjust="spacingAndGlyphs" style="font-size:9.83px;fill:#6B76B5;">Emakakaelavähk  55</text>
<text x="623" y="805" textLength="97" lengthAdjust="spacingAndGlyphs" style="font-size:9.83px;fill:#6B76B5;">Naha melanoom  48</text>
<text x="629.5" y="819.25" textLength="58.0" lengthAdjust="spacingAndGlyphs" style="font-size:9.83px;fill:#6B76B5;">Kilpnäärme-</text>
<text x="641.25" y="830.75" textLength="35.75" lengthAdjust="spacingAndGlyphs" style="font-size:9.83px;fill:#6B76B5;">vähk  15</text>
<text x="737.5" y="650" textLength="86.25" lengthAdjust="spacingAndGlyphs" style="font-size:9.83px;fill:#6B76B5;">Uimastisõltuvus ja</text>
<text x="741.75" y="661.25" textLength="77.5" lengthAdjust="spacingAndGlyphs" style="font-size:9.83px;fill:#6B76B5;">toksikomaania 2</text>
<text x="686.25" y="684.5" textLength="84.5" lengthAdjust="spacingAndGlyphs" style="font-size:13.97px;fill:#FF8F4E;">Psüühika- ja</text>
<text x="686.25" y="701.25" textLength="103.25" lengthAdjust="spacingAndGlyphs" style="font-size:13.97px;fill:#FF8F4E;">käitumishäired</text>
<text x="809.5" y="732.21" style="font-size:16.56px;fill:#FFFFFF;text-anchor:middle;">223</text>
<text x="855" y="685.72" style="font-size:12.42px;fill:#FFFFFF;text-anchor:middle;">79</text>
<text x="870" y="713.72" style="font-size:12.42px;fill:#FFFFFF;text-anchor:middle;">118</text>
<text x="861.75" y="661.25" textLength="107.0" lengthAdjust="spacingAndGlyphs" style="font-size:11.9px;fill:#5E6AAF;">Alkoholist tingitud</text>
<text x="870.5" y="676.25" textLength="90.0" lengthAdjust="spacingAndGlyphs" style="font-size:11.9px;fill:#5E6AAF;">psüühikahäired</text>
<text x="888" y="713.25" textLength="67" lengthAdjust="spacingAndGlyphs" style="font-size:11.9px;fill:#5E6AAF;">Dementsus</text>
<text x="874.25" y="740.75" textLength="134.0" lengthAdjust="spacingAndGlyphs" style="font-size:10.35px;fill:#6B76B5;">Kroonilised reumaatilised</text>
<text x="897.5" y="753.25" textLength="110.75" lengthAdjust="spacingAndGlyphs" style="font-size:10.35px;fill:#6B76B5;">südamehaigused  20</text>
<text x="735.75" y="827.5" textLength="188.75" lengthAdjust="spacingAndGlyphs" style="font-size:22.77px;fill:#FFFFFF;">Hüpertooniatõbi </text>
<text x="925" y="827.5" textLength="55.5" lengthAdjust="spacingAndGlyphs" style="font-size:22.77px;fill:#FFFFFF;font-weight:bold;">3248</text>
<text x="1046.75" y="826.25" textLength="182.5" lengthAdjust="spacingAndGlyphs" style="font-size:10.87px;fill:#5A2D00;font-style:italic;">Allikas: Tervise Arengu Instituut</text>
<text x="1046.75" y="840" textLength="174.5" lengthAdjust="spacingAndGlyphs" style="font-size:10.87px;fill:#5A2D00;font-style:italic;">andmed seisuga 2. juuni 2023</text>
</svg>
</body></html>
